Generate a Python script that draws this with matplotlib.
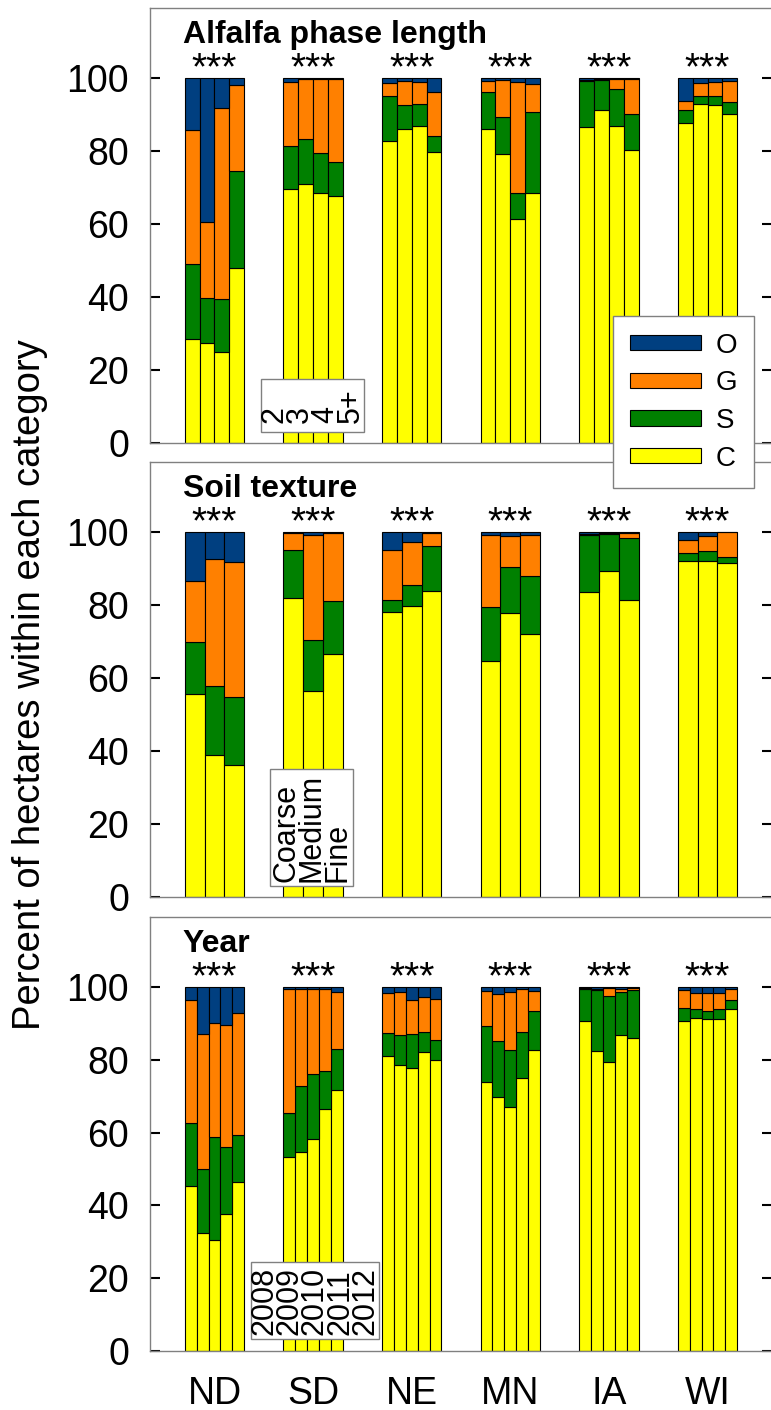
import matplotlib
matplotlib.use("Agg")
import matplotlib.pyplot as plt
from matplotlib.patches import Patch, Rectangle

plt.rcParams['font.family'] = ['Liberation Sans', 'DejaVu Sans']

states = ['ND', 'SD', 'NE', 'MN', 'IA', 'WI']
class_names = ['O', 'G', 'S', 'C']
class_colors = {'C': '#ffff00', 'S': '#008000', 'G': '#ff8000', 'O': '#003f80'}

# percent of hectares per class, one list per state, one value per sub-group
phase_labels = ['2', '3', '4', '5+']
phase_C = [[28.5, 27.3, 24.9, 48.0], [69.5, 71.0, 68.4, 67.6], [82.8, 86.1, 86.8, 79.8],
           [86.1, 79.2, 61.5, 68.4], [86.5, 91.3, 86.8, 80.4], [87.7, 93.0, 92.6, 90.2]]
phase_S = [[20.5, 12.4, 14.5, 26.4], [12.0, 12.3, 11.1, 9.3], [12.4, 6.5, 6.0, 4.2],
           [10.0, 10.0, 7.0, 22.3], [12.7, 8.2, 10.3, 9.8], [3.5, 2.2, 2.4, 3.2]]
phase_G = [[36.7, 20.9, 52.4, 23.7], [17.4, 16.4, 20.3, 22.9], [3.4, 6.7, 6.2, 12.2],
           [3.0, 10.3, 30.3, 7.7], [0.3, 0.2, 2.7, 9.6], [2.5, 3.5, 4.0, 5.7]]
phase_O = [[14.3, 39.4, 8.2, 1.9], [1.1, 0.3, 0.2, 0.2], [1.4, 0.7, 1.0, 3.8],
           [0.9, 0.5, 1.2, 1.6], [0.5, 0.3, 0.2, 0.2], [6.3, 1.3, 1.0, 0.9]]

soil_labels = ['Coarse', 'Medium', 'Fine']
soil_C = [[55.7, 38.8, 36.3], [82.0, 56.5, 66.6], [78.0, 79.7, 83.8],
          [64.6, 77.7, 72.1], [83.6, 89.4, 81.4], [92.1, 92.1, 91.4]]
soil_S = [[14.2, 19.0, 18.5], [13.1, 13.9, 14.5], [3.3, 5.9, 12.4],
          [14.9, 12.7, 15.8], [15.6, 10.1, 17.0], [2.3, 2.6, 1.8]]
soil_G = [[16.6, 34.8, 36.9], [4.6, 28.7, 18.6], [13.8, 11.8, 3.5],
          [19.7, 8.6, 11.3], [0.4, 0.3, 1.4], [3.3, 4.3, 6.7]]
soil_O = [[13.5, 7.4, 8.3], [0.3, 0.9, 0.3], [4.9, 2.6, 0.3],
          [0.8, 1.0, 0.8], [0.4, 0.2, 0.2], [2.3, 1.0, 0.1]]

year_labels = ['2008', '2009', '2010', '2011', '2012']
year_C = [[45.3, 32.5, 30.5, 37.6, 46.3], [53.4, 54.7, 58.3, 66.6, 71.6], [81.0, 78.6, 77.8, 82.1, 79.9],
          [73.8, 69.8, 67.1, 75.0, 82.7], [90.5, 82.4, 79.5, 86.7, 86.1], [90.7, 91.4, 91.2, 91.2, 93.9]]
year_S = [[17.2, 17.5, 28.3, 18.4, 13.0], [11.9, 18.2, 17.9, 10.4, 11.4], [6.4, 8.1, 9.4, 5.6, 5.5],
          [15.5, 15.4, 15.7, 12.7, 10.6], [8.8, 16.7, 18.0, 11.8, 13.1], [3.6, 2.6, 2.1, 2.8, 2.5]]
year_G = [[33.9, 37.1, 31.2, 33.5, 33.4], [34.0, 26.5, 23.3, 22.5, 15.5], [11.0, 11.8, 9.2, 9.6, 11.3],
          [9.5, 12.9, 15.8, 11.6, 5.7], [0.5, 0.4, 2.3, 1.0, 0.5], [4.8, 4.4, 5.1, 4.4, 3.1]]
year_O = [[3.6, 12.9, 10.0, 10.5, 7.3], [0.7, 0.6, 0.5, 0.5, 1.5], [1.6, 1.5, 3.6, 2.7, 3.3],
          [1.2, 1.9, 1.4, 0.7, 1.0], [0.2, 0.5, 0.2, 0.5, 0.3], [0.9, 1.6, 1.6, 1.6, 0.5]]

signif = ['***'] * 6

W, H = 771, 1410
fig = plt.figure(figsize=(W / 100, H / 100), dpi=100)


def add_axes_px(left, top, right, bottom):
    return fig.add_axes([left / W, 1 - bottom / H, (right - left) / W, (bottom - top) / H])


group_w = 0.603


def draw_panel(ax, title, C, S, G, O, sub_labels, box):
    for gi in range(len(states)):
        n = len(C[gi])
        bw = group_w / n
        xs = [gi + 1 - group_w / 2 + (j + 0.5) * bw for j in range(n)]
        bottom = [0.0] * n
        for name, vals in (('C', C[gi]), ('S', S[gi]), ('G', G[gi]), ('O', O[gi])):
            ax.bar(xs, vals, width=bw, bottom=bottom, color=class_colors[name],
                   edgecolor='black', linewidth=0.8, zorder=2)
            bottom = [b + v for b, v in zip(bottom, vals)]
        ax.text(gi + 1, 99.6, signif[gi], ha='center', va='baseline', fontsize=28)

    ax.set_xlim(0.346, 6.654)
    ax.set_ylim(0, 119.2)
    ax.set_yticks(range(0, 101, 20))
    ax.tick_params(axis='y', which='both', direction='in', length=7.5, width=1.5,
                   left=True, right=True, labelsize=27, pad=15)
    ax.tick_params(axis='x', length=0)
    for sp in ax.spines.values():
        sp.set_color('#808080')
        sp.set_linewidth(1.0)
    ax.text(0.053, 109.6, title, transform=ax.get_yaxis_transform(),
            fontsize=23, fontweight='bold', va='baseline', ha='left')

    # little key for the sub-groups, written sideways
    x0, x1, y0, y1 = box
    ax.add_patch(Rectangle((x0, y0), x1 - x0, y1 - y0, facecolor='white',
                           edgecolor='#808080', linewidth=1.0, zorder=5))
    ax.text((x0 + x1) / 2, (y0 + y1) / 2, '\n'.join(sub_labels), rotation=90,
            ha='center', va='center', multialignment='left', fontsize=22,
            linespacing=0.8, zorder=6)


ax1 = add_axes_px(150, 8, 772, 443)
ax2 = add_axes_px(150, 462, 772, 897)
ax3 = add_axes_px(150, 917, 772, 1351)

draw_panel(ax1, 'Alfalfa phase length', phase_C, phase_S, phase_G, phase_O,
           phase_labels, (1.472, 2.517, 3.0, 17.5))
draw_panel(ax2, 'Soil texture', soil_C, soil_S, soil_G, soil_O,
           soil_labels, (1.568, 2.405, 3.0, 35.1))
draw_panel(ax3, 'Year', year_C, year_S, year_G, year_O,
           year_labels, (1.370, 2.668, 3.3, 24.4))

for ax in (ax1, ax2):
    ax.set_xticks([])
ax3.set_xticks(range(1, len(states) + 1))
ax3.set_xticklabels(states, fontsize=27)
ax3.tick_params(axis='x', pad=18)

fig.text(30 / W, 1 - 685 / H, 'Percent of hectares within each category',
         rotation=90, ha='center', va='center', fontsize=27.5)

handles = [Patch(facecolor=class_colors[c], edgecolor='black', linewidth=0.8) for c in class_names]
leg = fig.legend(handles, class_names, loc='upper left', bbox_to_anchor=(613 / W, 1 - 316 / H),
                 borderaxespad=0, fontsize=20, handlelength=2.55, handleheight=0.47,
                 handletextpad=0.55, labelspacing=0.42, borderpad=0.6, fancybox=False,
                 framealpha=1, edgecolor='#808080')
leg.get_frame().set_linewidth(1.0)

fig.savefig('out.png', dpi=100)
